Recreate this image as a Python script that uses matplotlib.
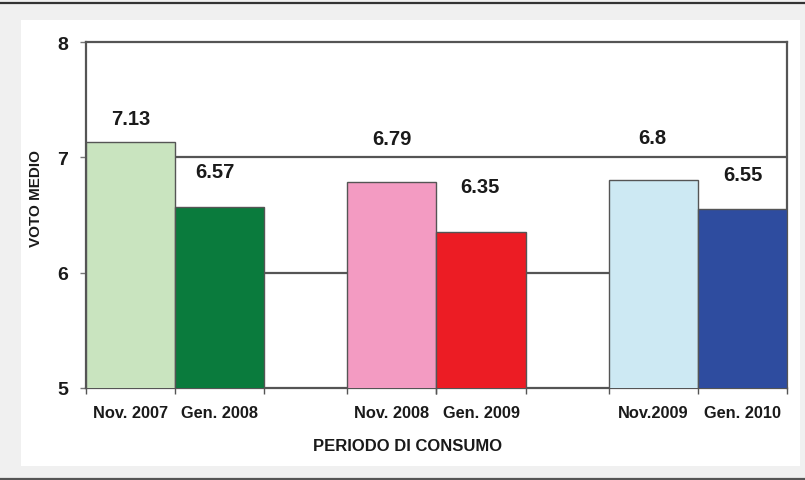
import matplotlib.pyplot as plt
from matplotlib.patches import Rectangle
from matplotlib.lines import Line2D
import numpy as np

plt.rcParams['font.family'] = ['Liberation Sans', 'DejaVu Sans']
plt.rcParams['font.weight'] = 'bold'

# data
periods = ['Nov. 2007', 'Gen. 2008', 'Nov. 2008', 'Gen. 2009', 'Nov.2009', 'Gen. 2010']
values = [7.13, 6.57, 6.79, 6.35, 6.8, 6.55]
value_text = ['7.13', '6.57', '6.79', '6.35', '6.8', '6.55']
colors = ['#c9e4bf', '#0a7b3d', '#f39bc2', '#ec1c24', '#cde9f3', '#2e4c9f']

# label placement (pixel offsets from bar top centre), as in the original
label_dx = [0, -5, 0, -1, -1, 1]
label_dy = [24, 35, 43, 46, 43, 35]

fig = plt.figure(figsize=(8.05, 4.81), dpi=100)
fig.patch.set_facecolor('#f0f0f0')

# white panel and the two rules of the frame
fig.patches.append(Rectangle((0.026, 0.029), 0.968, 0.927, transform=fig.transFigure,
                             facecolor='white', edgecolor='none', zorder=-5))
fig.lines.append(Line2D([0, 1], [0.9917, 0.9917], transform=fig.transFigure,
                        color='#333333', lw=1.6, zorder=-5))
fig.lines.append(Line2D([0, 1], [0.002, 0.002], transform=fig.transFigure,
                        color='#555555', lw=1.6, zorder=-5))

ax = fig.add_axes([0.1068, 0.1913, 0.8708, 0.7193])
ax.set_zorder(2)
ax.set_facecolor('white')

gap = 0.93
group = np.repeat(np.arange(3), 2)
within = np.tile([0, 1], 3)
x = group * (2 + gap) + within + 0.5

bars = ax.bar(x, values, width=1.0, bottom=0, color=colors,
              edgecolor='#555555', linewidth=1.0, zorder=3)

for b, txt, dx, dy in zip(bars, value_text, label_dx, label_dy):
    ax.annotate(txt, (b.get_x() + b.get_width() / 2, b.get_height()),
                xytext=(dx, dy), textcoords='offset pixels',
                ha='center', va='center', fontsize=14.5, fontweight='bold',
                color='#1a1a1a')

ax.set_ylim(5, 8)
ax.set_xlim(0, 3 * 2 + 2 * gap)
ax.set_yticks([5, 6, 7, 8])
ax.set_yticklabels(['5', '6', '7', '8'], fontsize=14, fontweight='bold', color='#1a1a1a')

for yv in [6, 7]:
    ax.axhline(yv, color='#555555', lw=1.6, zorder=1)

ax.set_xticks(x)
ax.set_xticklabels(periods, fontsize=11.8, fontweight='bold', color='#1a1a1a')
edges = np.unique(np.concatenate([x - 0.5, x + 0.5]))
ax.set_xticks(edges, minor=True)
ax.tick_params(axis='x', which='major', length=0, pad=12)
ax.tick_params(axis='x', which='minor', length=4, color='#555555', width=1)
ax.tick_params(axis='y', length=4, color='#777777', width=1, pad=9)

for s in ax.spines.values():
    s.set_color('#555555')
    s.set_linewidth(1.6)

ax.set_xlabel('PERIODO DI CONSUMO', fontsize=12, fontweight='bold', color='#1a1a1a', va='center')
ax.xaxis.set_label_coords(0.459, -0.165)
ax.set_ylabel('VOTO MEDIO', fontsize=11, fontweight='bold', color='#1a1a1a', va='center')
ax.yaxis.set_label_coords(-0.071, 0.552)

fig.savefig('out.png', dpi=100, facecolor=fig.get_facecolor())
